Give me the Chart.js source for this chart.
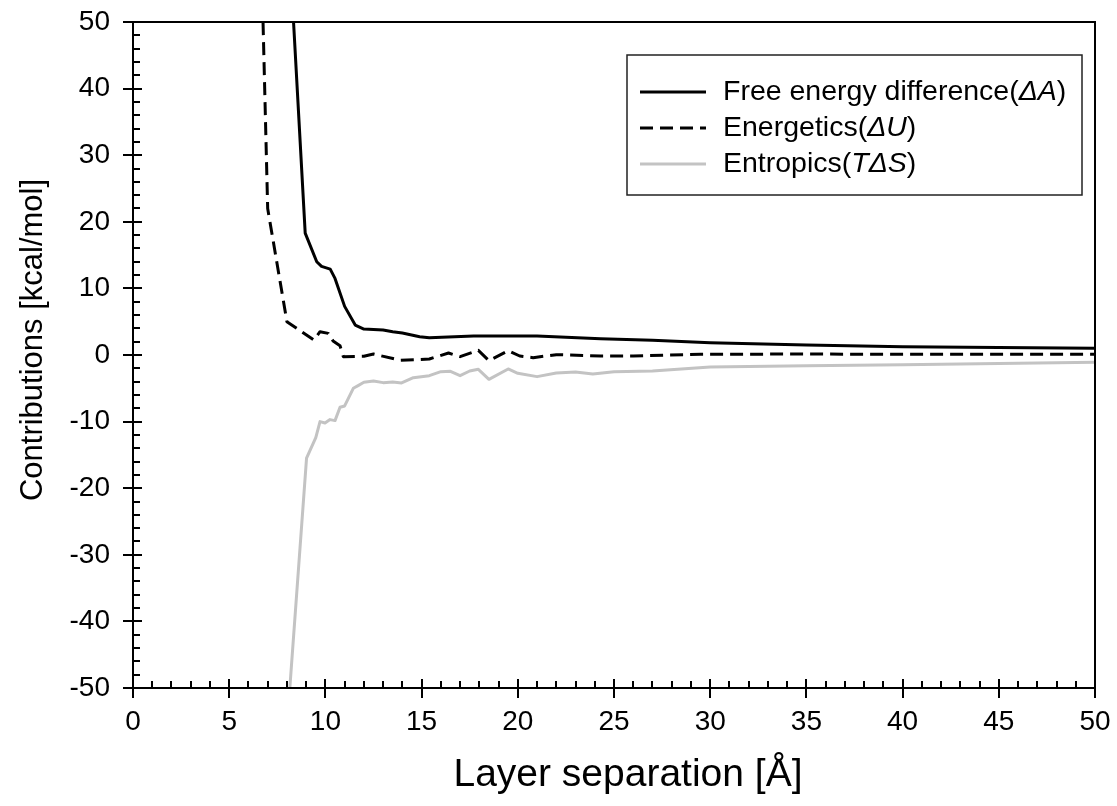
<!DOCTYPE html>
<html>
<head>
<meta charset="utf-8">
<script src="https://cdn.jsdelivr.net/npm/chart.js@4.4.0/dist/chart.umd.min.js"></script>
<style>
  html, body { margin: 0; padding: 0; background: #fff; }
  #wrap { width: 1117px; height: 806px; }
</style>
</head>
<body>
<div id="wrap"><canvas id="c" width="1117" height="806"></canvas></div>
<script>
// Series names and the italic symbol inside each
const seriesNames = ['Free energy difference(ΔA)', 'Energetics(ΔU)', 'Entropics(TΔS)'];
const italicParts = ['ΔA', 'ΔU', 'TΔS'];

// Axis titles
const xTitle = 'Layer separation [Å]';
const yTitle = 'Contributions [kcal/mol]';

// Free energy difference ΔA
const freeX = [8.0, 8.95, 9.55, 9.8, 10.25, 10.5, 11.0, 11.55, 12.0, 13.0, 13.5, 14.0, 14.9, 15.4, 17.7, 21.0, 24.3, 27.0, 30.0, 35.0, 40.0, 50.0];
const freeY = [68, 18.3, 14.0, 13.3, 12.9, 11.5, 7.3, 4.5, 3.9, 3.75, 3.5, 3.3, 2.75, 2.6, 2.85, 2.85, 2.45, 2.2, 1.85, 1.5, 1.25, 1.0];

// Energetics ΔU
const energyX = [6.5, 7.0, 8.0, 8.25, 9.4, 9.72, 10.15, 10.4, 10.76, 10.93, 12.0, 12.5, 13.9, 15.4, 16.4, 17.0, 17.95, 18.5, 19.5, 20.1, 20.8, 22.0, 24.3, 26.0, 29.5, 35.0, 40.0, 50.0];
const energyY = [80, 22, 5.0, 4.5, 2.25, 3.5, 3.25, 2.1, 1.4, -0.25, -0.2, 0.15, -0.8, -0.6, 0.3, -0.25, 0.7, -0.85, 0.65, -0.15, -0.4, 0.05, -0.15, -0.15, 0.1, 0.15, 0.1, 0.1];

// Entropics TΔS
const entropyX = [8.0, 9.02, 9.5, 9.72, 9.98, 10.24, 10.5, 10.76, 11.0, 11.45, 11.7, 12.0, 12.5, 13.0, 13.5, 13.96, 14.57, 15.4, 16.0, 16.5, 17.0, 17.5, 17.95, 18.5, 19.5, 20.0, 21.0, 22.0, 23.0, 23.9, 25.0, 27.0, 30.0, 35.0, 40.0, 50.0];
const entropyY = [-56, -15.5, -12.4, -10.0, -10.2, -9.7, -9.85, -7.85, -7.65, -5.0, -4.6, -4.1, -3.9, -4.15, -4.05, -4.2, -3.4, -3.1, -2.5, -2.45, -3.1, -2.4, -2.15, -3.65, -2.1, -2.75, -3.25, -2.7, -2.55, -2.85, -2.5, -2.4, -1.8, -1.6, -1.45, -1.1];

// Labelled (major) tick values; minor ticks fall between them
const xMajorTicks = [0, 5, 10, 15, 20, 25, 30, 35, 40, 45, 50];
const yMajorTicks = [-50, -40, -30, -20, -10, 0, 10, 20, 30, 40, 50];

const FONT = '"Liberation Sans", Arial, Helvetica, sans-serif';

const toPoints = (xs, ys) => xs.map((x, i) => ({ x, y: ys[i] }));

// Frame, crossing major ticks, inward minor ticks, axis titles and the boxed legend
const frameTicksLegend = {
  id: 'frameTicksLegend',
  afterDatasetsDraw(chart) {
    const { ctx, chartArea: a, scales: { x, y } } = chart;
    ctx.save();
    ctx.strokeStyle = '#000';
    ctx.lineWidth = 2;
    ctx.setLineDash([]);
    ctx.strokeRect(a.left, a.top, a.right - a.left, a.bottom - a.top);

    ctx.lineWidth = 2;
    ctx.beginPath();
    x.ticks.forEach(t => {
      const px = Math.round(x.getPixelForValue(t.value));
      const major = xMajorTicks.includes(t.value);
      ctx.moveTo(px, a.bottom - (major ? 9 : 7));
      ctx.lineTo(px, a.bottom + (major ? 10 : 0));
    });
    y.ticks.forEach(t => {
      const py = Math.round(y.getPixelForValue(t.value));
      const major = yMajorTicks.includes(t.value);
      ctx.moveTo(a.left - (major ? 10 : 0), py);
      ctx.lineTo(a.left + (major ? 9 : 7), py);
    });
    ctx.stroke();

    // axis titles
    ctx.fillStyle = '#000';
    ctx.textAlign = 'center';
    ctx.textBaseline = 'middle';
    ctx.font = '39px ' + FONT;
    ctx.fillText(xTitle, (a.left + a.right) / 2 + 14, 775);
    ctx.save();
    ctx.translate(33, (a.top + a.bottom) / 2 - 15);
    ctx.rotate(-Math.PI / 2);
    ctx.font = '31px ' + FONT;
    ctx.fillText(yTitle, 0, 0);
    ctx.restore();

    // legend box
    const box = { left: 627, top: 55, right: 1082, bottom: 195 };
    ctx.fillStyle = '#fff';
    ctx.fillRect(box.left, box.top, box.right - box.left, box.bottom - box.top);
    ctx.strokeStyle = '#222';
    ctx.lineWidth = 1.5;
    ctx.strokeRect(box.left, box.top, box.right - box.left, box.bottom - box.top);

    const fontSize = 28.5;
    chart.data.datasets.forEach((ds, i) => {
      const rowY = 92 + i * 36;
      ctx.strokeStyle = ds.borderColor;
      ctx.lineWidth = ds.borderWidth;
      ctx.setLineDash(ds.borderDash || []);
      ctx.beginPath();
      ctx.moveTo(640, rowY);
      ctx.lineTo(706, rowY);
      ctx.stroke();
      ctx.setLineDash([]);

      const label = ds.label;
      const it = italicParts[i];
      const k = label.indexOf(it);
      const parts = [
        [label.slice(0, k), false],
        [it, true],
        [label.slice(k + it.length), false]
      ];
      let tx = 723;
      ctx.fillStyle = '#000';
      ctx.textBaseline = 'middle';
      ctx.textAlign = 'left';
      parts.forEach(([s, ital]) => {
        ctx.font = (ital ? 'italic ' : '') + fontSize + 'px ' + FONT;
        ctx.fillText(s, tx, rowY);
        tx += ctx.measureText(s).width;
      });
    });
    ctx.restore();
  }
};

new Chart(document.getElementById('c'), {
  type: 'line',
  data: {
    datasets: [
      {
        label: seriesNames[0],
        data: toPoints(freeX, freeY),
        borderColor: '#000',
        borderWidth: 3,
        pointRadius: 0,
        tension: 0,
        borderJoinStyle: 'round'
      },
      {
        label: seriesNames[1],
        data: toPoints(energyX, energyY),
        borderColor: '#000',
        borderWidth: 3,
        borderDash: [13, 7],
        pointRadius: 0,
        tension: 0,
        borderJoinStyle: 'round'
      },
      {
        label: seriesNames[2],
        data: toPoints(entropyX, entropyY),
        borderColor: '#c3c3c3',
        borderWidth: 3,
        pointRadius: 0,
        tension: 0,
        borderJoinStyle: 'round'
      }
    ]
  },
  options: {
    responsive: false,
    animation: false,
    devicePixelRatio: 1,
    layout: { padding: { left: 0, top: 22, right: 22, bottom: 0 } },
    plugins: {
      legend: { display: false },
      tooltip: { enabled: false }
    },
    scales: {
      x: {
        type: 'linear',
        min: 0,
        max: 50,
        grid: { display: false, drawTicks: false },
        border: { display: false },
        ticks: {
          stepSize: 1,
          autoSkip: false,
          maxRotation: 0,
          padding: 17,
          color: '#000',
          font: { family: FONT, size: 28 },
          callback: v => xMajorTicks.includes(v) ? String(v) : ''
        },
        title: { display: false },
        afterFit: s => { s.height = 118; s.paddingLeft = 0; s.paddingRight = 0; }
      },
      y: {
        type: 'linear',
        min: -50,
        max: 50,
        grid: { display: false, drawTicks: false },
        border: { display: false },
        ticks: {
          stepSize: 2,
          autoSkip: false,
          padding: 23,
          color: '#000',
          font: { family: FONT, size: 28 },
          callback: v => yMajorTicks.includes(v) ? String(v) : ''
        },
        title: { display: false },
        afterFit: s => { s.width = 133; s.paddingTop = 0; s.paddingBottom = 0; }
      }
    }
  },
  plugins: [frameTicksLegend]
});
</script>
</body>
</html>
